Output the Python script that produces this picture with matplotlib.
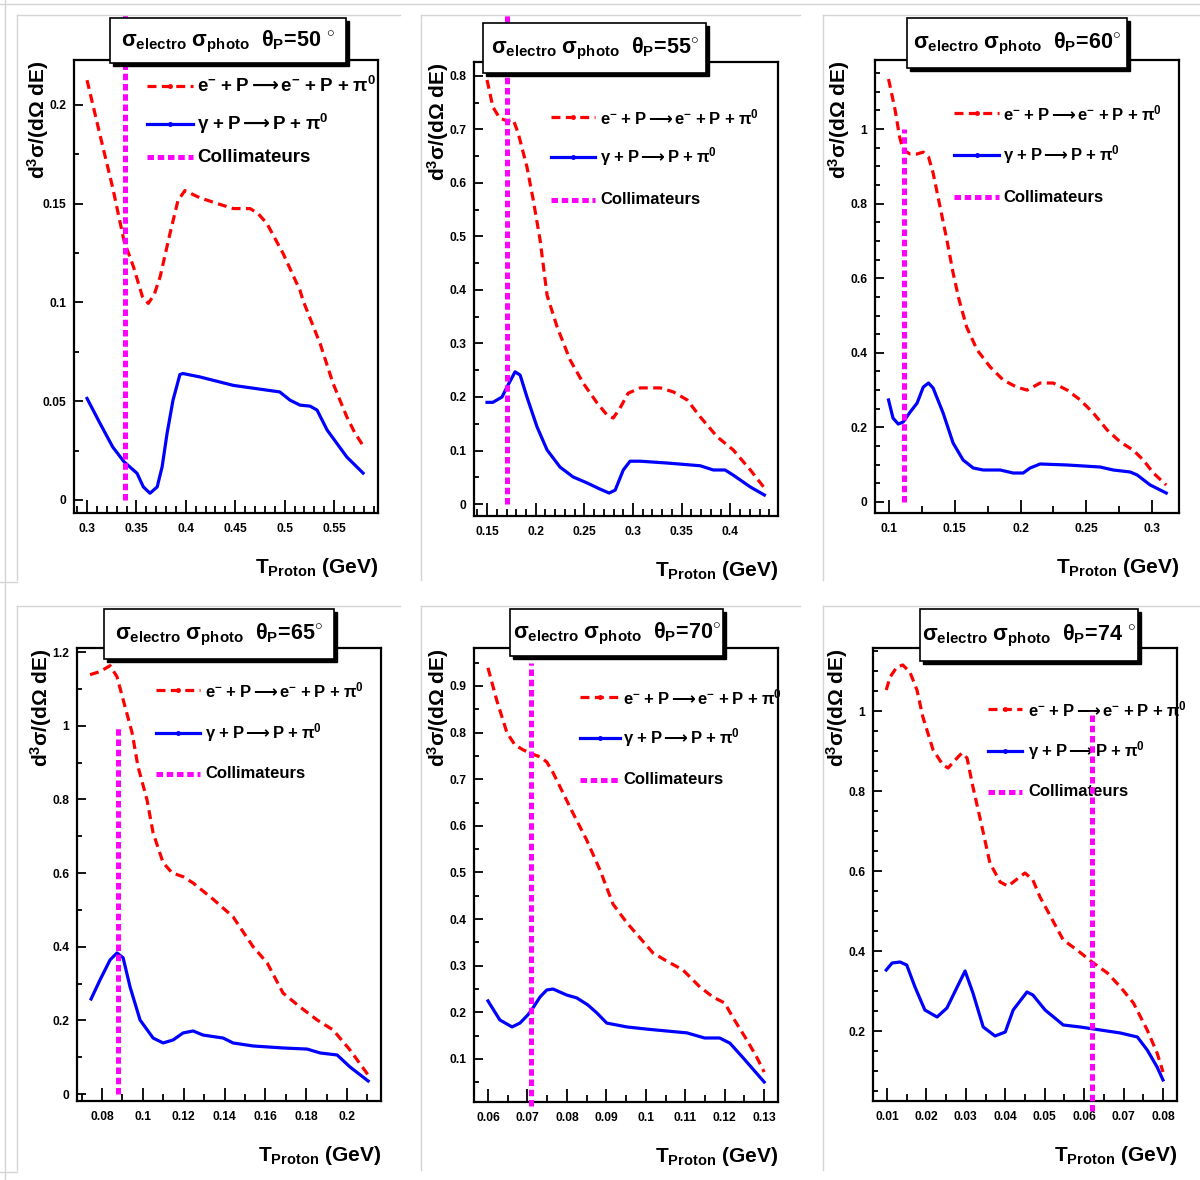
import matplotlib
matplotlib.use('Agg')
import matplotlib.pyplot as plt
from matplotlib.lines import Line2D
from matplotlib.patches import Rectangle
from matplotlib.ticker import MultipleLocator, FuncFormatter
from matplotlib.transforms import Bbox, TransformedBbox

plt.rcParams.update({
    'font.family': ['Liberation Sans', 'DejaVu Sans'],
    'font.weight': 'bold',
    'mathtext.fontset': 'custom',
    'mathtext.rm': 'Liberation Sans',
    'mathtext.bf': 'Liberation Sans:bold',
    'mathtext.it': 'Liberation Sans:italic',
    'mathtext.sf': 'DejaVu Sans',
})

# ---------------- data ----------------
angles = ['50', '55', '60', '65', '70', '74']
collim_x = [0.338, 0.170, 0.111, 0.088, 0.071, 0.062]
collim_top = [1.0, 1.0, 1.0, 1.0, 0.95, 1.0]

# theta = 50 deg
t50_e = [0.300, 0.313, 0.326, 0.3375, 0.347, 0.356, 0.362, 0.368, 0.374, 0.384, 0.392, 0.399,
         0.414, 0.432, 0.448, 0.465, 0.473, 0.482, 0.4985, 0.5156, 0.5186, 0.536, 0.549, 0.563,
         0.571, 0.580]
s50_e = [0.2125, 0.185, 0.158, 0.131, 0.118, 0.103, 0.0995, 0.104, 0.113, 0.135, 0.1515, 0.1566,
         0.153, 0.150, 0.1475, 0.1475, 0.145, 0.140, 0.1247, 0.106, 0.101, 0.079, 0.059, 0.042,
         0.034, 0.027]
t50_g = [0.300, 0.313, 0.326, 0.3375, 0.3506, 0.357, 0.3637, 0.371, 0.376, 0.381, 0.387, 0.394,
         0.397, 0.414, 0.448, 0.482, 0.495, 0.5055, 0.5156, 0.5257, 0.5328, 0.543, 0.563, 0.5794]
s50_g = [0.0514, 0.0389, 0.0268, 0.0193, 0.0135, 0.0066, 0.0034, 0.0066, 0.0168, 0.0337, 0.0505,
         0.0635, 0.064, 0.0623, 0.058, 0.0556, 0.0547, 0.0505, 0.048, 0.0475, 0.0455, 0.0354,
         0.0217, 0.0136]

# theta = 55 deg
t55_e = [0.150, 0.156, 0.163, 0.1706, 0.177, 0.182, 0.191, 0.1975, 0.2045, 0.2117, 0.222, 0.2354,
         0.2488, 0.263, 0.2735, 0.2797, 0.2866, 0.295, 0.3074, 0.328, 0.3414, 0.3557, 0.369,
         0.3866, 0.403, 0.4206, 0.435]
s55_e = [0.7925, 0.742, 0.721, 0.716, 0.718, 0.693, 0.630, 0.568, 0.4935, 0.390, 0.331, 0.269,
         0.226, 0.189, 0.166, 0.1607, 0.179, 0.207, 0.217, 0.217, 0.2095, 0.1944, 0.163, 0.1254,
         0.101, 0.0636, 0.030]
t55_g = [0.150, 0.156, 0.1654, 0.1706, 0.1788, 0.184, 0.191, 0.2014, 0.2117, 0.225, 0.2385,
         0.2529, 0.266, 0.2755, 0.2817, 0.290, 0.297, 0.3074, 0.335, 0.369, 0.3825, 0.3946,
         0.403, 0.4206, 0.435]
s55_g = [0.190, 0.190, 0.200, 0.219, 0.247, 0.241, 0.200, 0.144, 0.101, 0.069, 0.0505, 0.0393,
         0.028, 0.0205, 0.026, 0.0636, 0.080, 0.080, 0.0766, 0.0715, 0.0636, 0.0636, 0.054,
         0.0318, 0.0168]

# theta = 60 deg
t60_e = [0.0996, 0.1046, 0.108, 0.1107, 0.116, 0.1213, 0.126, 0.130, 0.1335, 0.1388, 0.144,
         0.1487, 0.1533, 0.159, 0.167, 0.1769, 0.1868, 0.197, 0.205, 0.2149, 0.2248, 0.2355,
         0.2454, 0.2553, 0.2659, 0.2758, 0.2857, 0.2933, 0.301, 0.3108]
s60_e = [1.134, 1.051, 0.979, 0.944, 0.933, 0.933, 0.938, 0.925, 0.882, 0.791, 0.702, 0.614,
         0.5415, 0.469, 0.4075, 0.362, 0.327, 0.308, 0.300, 0.319, 0.319, 0.300, 0.2735, 0.2386,
         0.193, 0.161, 0.139, 0.1126, 0.0777, 0.0456]
t60_g = [0.0996, 0.103, 0.107, 0.1107, 0.116, 0.1213, 0.126, 0.130, 0.1335, 0.1411, 0.1487,
         0.1563, 0.164, 0.1715, 0.1845, 0.1944, 0.2020, 0.2073, 0.2149, 0.2355, 0.2605, 0.2705,
         0.2834, 0.2887, 0.2986, 0.3108]
s60_g = [0.2735, 0.225, 0.209, 0.2145, 0.241, 0.265, 0.308, 0.319, 0.3056, 0.2386, 0.158,
         0.1126, 0.0912, 0.0858, 0.0858, 0.0777, 0.0777, 0.0912, 0.1019, 0.0992, 0.0938, 0.0858,
         0.0804, 0.0724, 0.0456, 0.0241]

# theta = 65 deg
t65_e = [0.0741, 0.079, 0.0839, 0.0873, 0.0903, 0.0947, 0.0976, 0.102, 0.105, 0.1099, 0.1143,
         0.1197, 0.1246, 0.1344, 0.1442, 0.154, 0.1609, 0.1687, 0.177, 0.1854, 0.1932, 0.2015,
         0.2104]
s65_e = [1.1386, 1.147, 1.163, 1.133, 1.071, 0.981, 0.889, 0.799, 0.709, 0.628, 0.6005, 0.590,
         0.573, 0.529, 0.481, 0.400, 0.356, 0.274, 0.2364, 0.201, 0.174, 0.1196, 0.0516]
t65_g = [0.0746, 0.079, 0.0839, 0.0873, 0.0903, 0.0937, 0.0986, 0.105, 0.1099, 0.1148, 0.1197,
         0.1246, 0.1295, 0.1393, 0.1442, 0.154, 0.1687, 0.1805, 0.1869, 0.1952, 0.2015, 0.2104]
s65_g = [0.258, 0.310, 0.364, 0.383, 0.370, 0.2908, 0.201, 0.152, 0.1386, 0.1467, 0.1658, 0.1712,
         0.160, 0.152, 0.1386, 0.1304, 0.125, 0.122, 0.1114, 0.106, 0.0734, 0.0353]

# theta = 70 deg
t70_e = [0.060, 0.0622, 0.0648, 0.0668, 0.0689, 0.0711, 0.0732, 0.0749, 0.0765, 0.079, 0.0815,
         0.085, 0.0884, 0.0917, 0.0952, 0.0985, 0.1018, 0.1053, 0.1094, 0.1137, 0.117, 0.120,
         0.122, 0.1256, 0.1281, 0.130]
s70_e = [0.939, 0.870, 0.800, 0.774, 0.763, 0.7545, 0.748, 0.737, 0.714, 0.671, 0.628, 0.570,
         0.505, 0.432, 0.392, 0.360, 0.3275, 0.310, 0.291, 0.2545, 0.233, 0.220, 0.190, 0.1408,
         0.104, 0.072]
t70_g = [0.060, 0.063, 0.0661, 0.0681, 0.0701, 0.0714, 0.0732, 0.0749, 0.0765, 0.080, 0.0825,
         0.0853, 0.0876, 0.0901, 0.0952, 0.1003, 0.1053, 0.1104, 0.1149, 0.1187, 0.1213, 0.1245,
         0.130]
s70_g = [0.2245, 0.1837, 0.1687, 0.177, 0.1944, 0.2094, 0.233, 0.248, 0.250, 0.237, 0.231, 0.216,
         0.1987, 0.177, 0.1687, 0.164, 0.160, 0.156, 0.145, 0.145, 0.134, 0.104, 0.0506]

# theta = 74 deg
t74_e = [0.0098, 0.0108, 0.0125, 0.014, 0.0158, 0.0176, 0.0191, 0.0217, 0.0242, 0.0255, 0.0273,
         0.029, 0.0303, 0.0318, 0.0341, 0.0361, 0.0387, 0.0407, 0.043, 0.045, 0.047, 0.0488,
         0.0506, 0.0547, 0.0582, 0.062, 0.0659, 0.0692, 0.0725, 0.076, 0.0785, 0.080]
s74_e = [1.0525, 1.085, 1.110, 1.115, 1.0975, 1.0525, 0.985, 0.9025, 0.865, 0.8575, 0.8775,
         0.895, 0.8825, 0.810, 0.710, 0.620, 0.5725, 0.562, 0.580, 0.595, 0.5775, 0.535, 0.5025,
         0.4275, 0.4025, 0.3725, 0.345, 0.310, 0.270, 0.2025, 0.145, 0.0975]
t74_g = [0.0098, 0.0113, 0.0133, 0.015, 0.0171, 0.0196, 0.0227, 0.0252, 0.0278, 0.0298, 0.0318,
         0.0344, 0.0374, 0.040, 0.042, 0.0455, 0.047, 0.0501, 0.0547, 0.059, 0.0641, 0.0692,
         0.0735, 0.076, 0.0785, 0.080]
s74_g = [0.3525, 0.370, 0.3725, 0.365, 0.310, 0.2525, 0.235, 0.2575, 0.310, 0.350, 0.295, 0.210,
         0.1875, 0.1975, 0.2525, 0.2975, 0.290, 0.2525, 0.215, 0.210, 0.2025, 0.195, 0.185,
         0.1525, 0.110, 0.0775]

electro = [(t50_e, s50_e), (t55_e, s55_e), (t60_e, s60_e), (t65_e, s65_e), (t70_e, s70_e), (t74_e, s74_e)]
photo = [(t50_g, s50_g), (t55_g, s55_g), (t60_g, s60_g), (t65_g, s65_g), (t70_g, s70_g), (t74_g, s74_g)]

SP = '$\\;$'
ARR = '$\\,\\mathsf{\u27f6}\\,$'
leg_electro = ('e$^{\\mathbf{-}}$' + SP + '+' + SP + 'P' + ARR + 'e$^{\\mathbf{-}}$' + SP + '+' + SP
               + 'P' + SP + '+' + SP + '$\\mathrm{\\pi}^{\\mathbf{0}}$')
leg_photo = ('$\\mathrm{\\gamma}$' + SP + '+' + SP + 'P' + ARR + 'P' + SP + '+' + SP
             + '$\\mathrm{\\pi}^{\\mathbf{0}}$')
leg_coll = 'Collimateurs'
ylabel = r'd$^{\mathbf{3}}$$\mathrm{\sigma}$/(d$\mathrm{\Omega}$ dE)'
xlabel = r'T$_{\mathbf{Proton}}$ (GeV)'

# ---------------- layout (pixels) ----------------
W, H = 1200, 1180
ax_px = [(74, 60, 378, 513), (474, 62, 778, 516), (875, 60, 1179, 513),
         (77, 648, 381, 1101), (474, 648, 778, 1102), (873, 648, 1177, 1101)]
xlims = [(0.2868, 0.5945), (0.1366, 0.449), (0.0893, 0.3205),
         (0.0677, 0.2167), (0.05646, 0.1335), (0.00645, 0.08355)]
ylims = [(-0.0066, 0.2227), (-0.0224, 0.826), (-0.0295, 1.185),
         (-0.019, 1.211), (0.0077, 0.9815), (0.025, 1.1575)]
xmaj = [0.05, 0.05, 0.05, 0.02, 0.01, 0.01]
xmin = [0.01, 0.01, 0.025, 0.01, 0.005, 0.005]
ymaj = [0.05, 0.1, 0.2, 0.2, 0.1, 0.2]
ymin = [0.025, 0.05, 0.05, 0.1, 0.05, 0.05]
title_px = [(110, 18, 346, 63), (483, 23, 706, 73), (907, 18, 1127, 68),
            (104, 609, 334, 659), (510, 609, 723, 656), (920, 609, 1138, 661)]
deg_sep = [' ', '', '', '', '', ' ']
leg_px = [(147, 193, 197, (86, 124, 157)), (551, 595, 600, (117, 157, 200)),
          (954, 999, 1003, (113, 155, 197)), (156, 200, 205, (690, 733, 774)),
          (580, 620, 623, (697, 738, 780)), (988, 1022, 1028, (709, 751, 792))]
leg_fs = [13.5, 12.0, 12.0, 12.0, 12.0, 12.0]
pad_px = [(17, 15, 400, 580), (421, 15, 800, 580), (823, 15, 1200, 580),
          (17, 606, 400, 1170), (421, 606, 800, 1170), (823, 606, 1200, 1170)]

RED = '#ff0000'
BLUE = '#0000ff'
MAG = '#ff00ff'
GRAY = '#d4d4d4'


def fx(x):
    return x / W


def fy(y):
    return 1 - y / H


fig = plt.figure(figsize=(W / 100, H / 100), dpi=100)
fig.patch.set_facecolor('white')

# background page/pad borders
fig.add_artist(Line2D([fx(5), fx(5)], [fy(0), fy(1180)], color=GRAY, lw=1))
fig.add_artist(Line2D([fx(0), fx(1200)], [fy(4), fy(4)], color=GRAY, lw=1))
for (x0, y0, x1, y1) in pad_px:
    fig.add_artist(Line2D([fx(x0), fx(x0)], [fy(y0), fy(y1)], color=GRAY, lw=1))
    fig.add_artist(Line2D([fx(x0), fx(x1)], [fy(y0), fy(y0)], color=GRAY, lw=1))
fig.add_artist(Line2D([fx(0), fx(17)], [fy(582), fy(582)], color=GRAY, lw=1))
fig.add_artist(Line2D([fx(0), fx(17)], [fy(1172), fy(1172)], color=GRAY, lw=1))

fmt = FuncFormatter(lambda v, p: ('%g' % round(v, 6)))

for i in range(6):
    x0, y0, x1, y1 = ax_px[i]
    ax = fig.add_axes([fx(x0), fy(y1), (x1 - x0) / W, (y1 - y0) / H])
    ax.set_xlim(*xlims[i])
    ax.set_ylim(*ylims[i])
    for s in ax.spines.values():
        s.set_linewidth(1.6)
    ax.xaxis.set_major_locator(MultipleLocator(xmaj[i]))
    ax.xaxis.set_minor_locator(MultipleLocator(xmin[i]))
    ax.yaxis.set_major_locator(MultipleLocator(ymaj[i]))
    ax.yaxis.set_minor_locator(MultipleLocator(ymin[i]))
    ax.xaxis.set_major_formatter(fmt)
    ax.yaxis.set_major_formatter(fmt)
    ax.tick_params(axis='both', which='both', direction='in', top=False, right=False,
                   width=1.3, labelsize=8.7)
    ax.tick_params(axis='x', which='major', length=9.5, pad=7)
    ax.tick_params(axis='x', which='minor', length=5)
    ax.tick_params(axis='y', which='major', length=6.5, pad=5.5)
    ax.tick_params(axis='y', which='minor', length=3.5)

    te, se = electro[i]
    tg, sg = photo[i]
    ax.plot(tg, sg, color=BLUE, lw=2.3, solid_joinstyle='round', zorder=3)
    ax.plot(te, se, color=RED, lw=2.3, linestyle=(0, (2.8, 1.7)), zorder=3)

    # collimator line, clipped to its pad
    px0, py0, px1, py1 = pad_px[i]
    clipbb = TransformedBbox(Bbox.from_extents(fx(px0), fy(py1), fx(px1), fy(py0)), fig.transFigure)
    cl, = ax.plot([collim_x[i], collim_x[i]], [0, collim_top[i]], color=MAG, lw=3.6,
                  linestyle=(0, (1.3, 0.75)), zorder=6)
    cl.set_clip_box(clipbb)

    # labels
    ax.annotate(xlabel, xy=(1, 0), xycoords='axes fraction', xytext=(0, -39),
                textcoords='offset points', ha='right', va='center', fontsize=15,
                fontweight='bold')
    ax.annotate(ylabel, xy=(0, 1), xycoords='axes fraction', xytext=(-26, 0),
                textcoords='offset points', ha='center', va='top', rotation=90, fontsize=15,
                fontweight='bold')

    # legend (manual, ROOT style)
    lx0, lx1, tx, ys = leg_px[i]
    styles = [dict(color=RED, lw=2.3, linestyle=(0, (2.8, 1.7))),
              dict(color=BLUE, lw=2.3),
              dict(color=MAG, lw=3.6, linestyle=(0, (1.3, 0.75)))]
    texts = [leg_electro, leg_photo, leg_coll]
    for k in range(3):
        ln = Line2D([fx(lx0), fx(lx1)], [fy(ys[k]), fy(ys[k])], transform=fig.transFigure,
                    clip_on=False, zorder=4, **styles[k])
        ax.add_line(ln)
        if k < 2:
            mk = Line2D([fx((lx0 + lx1) / 2)], [fy(ys[k])], transform=fig.transFigure,
                        marker='o', markersize=2.5, color=styles[k]['color'], clip_on=False, zorder=4)
            ax.add_line(mk)
        ax.text(fx(tx), fy(ys[k]), texts[k], transform=fig.transFigure, ha='left', va='center',
                fontsize=leg_fs[i], fontweight='bold', zorder=4)

    # title box with shadow
    bx0, by0, bx1, by1 = title_px[i]
    sh = Rectangle((fx(bx0 + 3), fy(by1 + 3)), (bx1 - bx0) / W, (by1 - by0) / H,
                   transform=fig.transFigure, facecolor='black', edgecolor='black',
                   clip_on=False, zorder=8)
    ax.add_patch(sh)
    bx = Rectangle((fx(bx0), fy(by1)), (bx1 - bx0) / W, (by1 - by0) / H,
                   transform=fig.transFigure, facecolor='white', edgecolor='black', lw=1.2,
                   clip_on=False, zorder=9)
    ax.add_patch(bx)
    title = (r'$\mathrm{\sigma}_{\mathbf{electro}}$ $\mathrm{\sigma}_{\mathbf{photo}}$  '
             r'$\mathrm{\theta}_{\mathbf{P}}$=' + angles[i] + deg_sep[i] + r'$^{\circ}$')
    ax.text(fx((bx0 + bx1) / 2), fy((by0 + by1) / 2 + 1), title, transform=fig.transFigure,
            ha='center', va='center', fontsize=15.5, fontweight='bold', zorder=10)

fig.savefig('out.png', dpi=100, facecolor='white')
